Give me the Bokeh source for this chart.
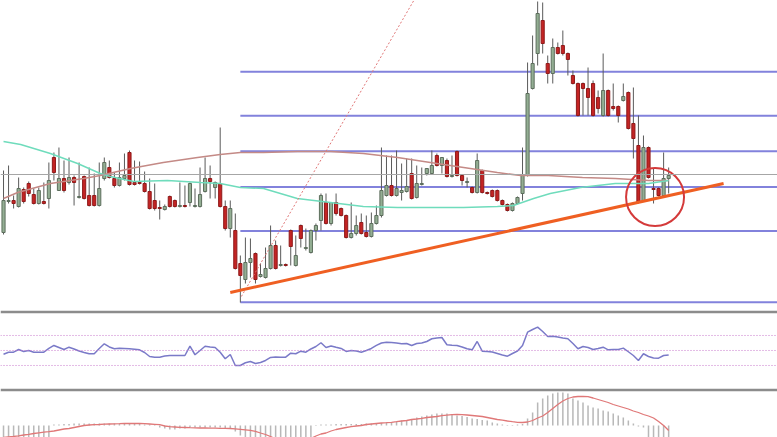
from bokeh.plotting import figure
from bokeh.layouts import column
from bokeh.models import Range1d, ColumnDataSource, Span
from bokeh.embed import file_html
from bokeh.resources import INLINE

# ---------------- data ----------------
open_ = [168,199,200,194,211,217,206,197,199,202,
         243,210,222,218,223,203,224,205,205,195,
         222,233,222,215,222,248,218,218,217,209,
         200,193,191,204,200,194,195,198,194,194,
         209,222,213,217,194,172,170,137,121,138,
         147,124,123,132,155,135,136,170,135,175,
         152,148,170,180,198,177,198,192,185,163,
         167,178,168,164,177,185,205,215,205,208,
         209,227,203,216,227,227,245,235,240,224,
         249,225,218,213,208,230,208,210,210,200,
         196,190,197,207,225,312,347,380,337,327,
         353,355,347,325,317,317,312,317,303,285,
         310,294,294,300,308,277,255,200,253,212,
         212,205,222]
high = [230,235,205,223,213,219,212,213,218,238,
        248,253,240,243,225,238,225,233,227,238,
        243,240,228,238,247,250,240,239,229,222,
        217,200,196,205,201,218,215,218,212,233,
        243,235,219,273,200,200,187,145,163,162,
        148,137,153,175,160,155,137,171,165,176,
        172,171,177,207,207,198,207,193,186,198,
        185,187,185,188,195,253,245,245,250,237,
        242,242,235,233,232,250,247,243,242,245,
        250,226,223,214,247,231,209,211,211,201,
        197,198,204,253,338,365,399,398,345,362,
        358,370,348,330,318,318,333,320,310,347,
        311,317,295,317,309,313,285,265,254,232,
        213,248,233]
low = [166,197,192,193,197,204,196,196,196,192,
       220,210,208,216,195,202,201,194,194,194,
       220,222,213,214,220,215,215,216,208,191,
       190,181,190,193,193,193,193,194,193,193,
       208,202,202,193,170,163,131,98,117,123,
       117,123,122,131,131,134,134,135,134,153,
       150,147,160,170,176,175,185,184,162,162,
       165,166,163,163,176,183,204,204,204,200,
       208,201,202,215,225,226,234,227,223,223,
       224,215,213,207,207,207,206,203,199,195,
       189,189,196,200,224,311,335,347,317,317,
       346,345,325,316,284,285,285,284,287,284,
       284,290,278,299,271,242,197,199,222,197,
       204,204,207]
close = [200,200,197,212,199,207,197,210,197,220,
         228,222,210,223,218,204,202,195,195,212,
         238,223,215,223,225,216,216,217,209,192,
         192,192,194,194,194,195,194,217,195,206,
         222,219,218,194,172,192,132,125,138,142,
         121,126,132,155,132,136,135,154,145,162,
         153,170,175,205,177,198,187,185,163,167,
         175,167,164,177,185,210,215,205,212,210,
         214,202,217,217,232,235,235,243,224,225,
         225,220,219,208,240,208,207,204,200,196,
         190,197,203,225,307,337,387,357,327,353,
         347,347,341,317,285,312,303,285,292,310,
         285,292,285,304,272,262,198,253,223,211,
         205,222,225]

# moving averages (candle index, price)
ma_fast_idx = [0, 3.4, 9.3, 14.7, 19.2, 21.2, 25.8, 32.5, 39.1, 43, 47, 51.6, 58.3, 64.9,
               71.4, 78.2, 91.3, 98, 101.2, 105.2, 108.5, 114.5, 121.4, 128, 132]
ma_fast = [259, 256, 247, 237, 227, 224, 219, 220, 218, 217, 213, 212, 202, 198,
           194, 193, 193, 194, 195, 202, 207, 213, 217, 217, 220]
ma_slow_idx = [0, 2.8, 9.3, 15.9, 19.2, 25.2, 31.7, 38.5, 43, 47, 51.6, 58.3, 64.9, 71.4,
               78.2, 84.7, 91.3, 98, 102.6, 108.1, 114.9, 121.4, 128, 132]
ma_slow = [202, 208, 217, 222, 225, 232, 238, 243, 246, 248, 248, 249, 249, 247,
           243, 238, 233, 228, 225, 225, 223, 222, 220, 220]

current_price = 226

# Fibonacci retracement: anchor at swing low candle, levels between low and high
fib_start_idx = 47
fib_low, fib_high = 98.3, 400.0
fib_ratios = [0.0, 0.236, 0.382, 0.5, 0.618, 0.764]

# trend line anchors and steep dotted line anchors
trend_idx = [45.0, 142.9]
trend_px = [108, 217]
steep_idx = [47.2, 82.0]
steep_px = [104, 405]

# highlighted area (circle)
circle_idx = [129.3]
circle_px = [203.5]

rsi = [45,47.7,47.7,51.3,48.7,50,47.7,47.7,47.7,52.7,
       56.7,54,51.3,54.4,52,49.3,47.3,45.6,45.6,52.7,
       58.9,54.7,52.3,53.1,52.7,52.3,51.7,50.9,47.3,42,
       41.1,41.1,42.7,43.3,43.3,43.3,43.3,55.7,44.3,50,
       55.7,54.7,54,47.7,38.9,44.7,30,30,33.6,35.3,
       32.7,34,36.7,40.7,41.3,41.1,41.1,46.4,45.6,49.1,
       47.7,52,55.3,60.3,54,56,54.3,52.7,48.7,50,
       49.3,47.7,50,52.7,56.7,60,61.1,60.7,60,58.9,
       59.3,56.7,59.3,60,62,65.6,66.7,67.3,57.6,57.1,
       56.7,54.7,52.3,50.9,62,49.1,48.7,48,46,44,
       42.4,46,49.3,56.7,74.4,78,81.1,75.3,68.7,69.1,
       68,66.7,65.6,59.3,52.3,55.3,54,51.3,52.7,54.4,
       50.9,51.3,51.3,53.1,48.3,43.3,36.7,45.6,42,40,
       39.7,43.3,44]
rsi_levels = [70, 50, 30]

macd_hist = [-14,-15,-15,-14,-14,-14,-13,-13,-13,-13,
             1,1,1.5,1.5,2,2,2,2,2,2,
             2,2,2,1.5,1.5,1.5,1.5,1.5,1,1,
             1,-2,-3,-4,-4,-3,-3,-2,-2,-2,
             -2,-2,-2,-2,-3,-3,-6,-10,-14,-15,
             -15,-15,-15,-15,-15,-15,-15,-15,-14,-14,
             -13,-12,0.5,1,1,1,1.5,1.5,1.5,1.5,
             1.5,1.5,2,2,2,2.5,3,3.5,4,5,
             5.5,6.5,8,9,10,11,12,12,12,11,
             10,9.5,8.5,7,6.5,5.5,5,3,2,1,
             0.5,0.5,1,1.5,7,13,23,27,30,32,
             33,33,32,27,25,23,20,18,17,15,
             14,12,10,8,5,2,-1,-2,-14,-15,
             -15,-15,-15]
macd_signal = [-12,-11.5,-11,-10.3,-9.5,-8.8,-8,-7.3,-6.7,-6.2,
               -5.5,-4.5,-3.5,-3,-2,-1,0,0.5,0.8,1,
               1.3,1.5,1.7,1.8,2,2,2,2,1.8,1.5,
               1.2,0.8,-0.5,-1.2,-1.5,-1.8,-2,-2.2,-2.3,-2.5,
               -2.5,-2.6,-2.7,-2.8,-2.9,-3,-3.3,-3.8,-4.3,-4.8,
               -5.8,-7.5,-9,-11,-13.5,-15.5,-17,-17.5,-17.5,-17,
               -15.5,-13,-10.5,-8.5,-7.5,-5.5,-4,-3,-2,-1.2,
               -0.5,0,1,1.5,2,2.5,2.8,3.2,3.8,4.5,
               5,6,6.5,7.2,8,8.5,9,9.8,10.3,10.8,
               11,10.8,10.5,10,9.5,9,8,7,6,5.3,
               4.5,3.8,3.2,3,3.5,5,7.5,9.5,13,17,
               21,24.5,27,28.5,29,29,28.8,27.5,26,24.5,
               23,21,19.5,18,16.5,14.5,13,11,9.5,7.5,
               4,0,-5]

n = len(open_)
assert all(len(a) == n for a in (high, low, close, rsi, macd_hist, macd_signal))
idx = list(range(n))

# ---------------- figures ----------------
xr = Range1d(-0.6, 153.6)
SEP = "#8c8c8c"


def make_fig(h, y0, y1, top_border):
    f = figure(width=777, height=h, x_range=xr, y_range=Range1d(y0, y1),
               output_backend="svg", toolbar_location=None,
               x_axis_location=None, y_axis_location=None,
               min_border_left=0, min_border_right=0, min_border_bottom=0,
               min_border_top=top_border,
               border_fill_color=SEP if top_border else "white",
               background_fill_color="white", outline_line_color=None)
    f.xgrid.visible = False
    f.ygrid.visible = False
    return f


main = make_fig(310, 90, 400, 0)

# fib levels
levels = [fib_low + r * (fib_high - fib_low) for r in fib_ratios]
main.segment(x0=[fib_start_idx] * len(levels), y0=levels, x1=[170] * len(levels), y1=levels,
             line_color="#8282dc", line_width=2)
main.add_layout(Span(location=current_price, dimension="width", line_color="#a6a6a6", line_width=1))

# candles
src = ColumnDataSource(dict(x=idx, h=high, l=low))
main.segment(x0="x", y0="l", x1="x", y1="h", source=src, line_color="#5a5a5a", line_width=1)
up = [i for i in idx if close[i] >= open_[i]]
dn = [i for i in idx if close[i] < open_[i]]
for sel, fc, lc in ((up, "#93ae93", "#5d6e5d"), (dn, "#c42424", "#8e1a1a")):
    main.vbar(x=sel, width=0.62,
              top=[max(open_[i], close[i]) for i in sel],
              bottom=[min(open_[i], close[i]) for i in sel],
              fill_color=fc, line_color=lc, line_width=1)

# moving averages
main.line(ma_slow_idx, ma_slow, line_color="#c48a86", line_width=1.5)
main.line(ma_fast_idx, ma_fast, line_color="#6fdcbc", line_width=1.5)

# drawings
main.line(steep_idx, steep_px, line_color="#e07878", line_width=1, line_dash="2 2")
main.line(trend_idx, trend_px, line_color="#ef5f22", line_width=3)
main.scatter(circle_idx, circle_px, marker="circle", size=58, fill_color=None,
             line_color="#d43a3a", line_width=2)

# RSI
rsi_fig = make_fig(78, -0.7, 99.3, 3)
for lv in rsi_levels:
    rsi_fig.add_layout(Span(location=lv, dimension="width", line_color="#c878cc",
                            line_width=1, line_dash="1 2"))
rsi_fig.line(idx, rsi, line_color="#7a7ac8", line_width=1.5)

# MACD
macd_fig = make_fig(49, -12, 34, 3)
macd_fig.vbar(x=idx, width=0.3, top=[max(v, 0) for v in macd_hist],
              bottom=[min(v, 0) for v in macd_hist], fill_color="#b8b8b8", line_color=None)
macd_fig.line(idx, macd_signal, line_color="#e07878", line_width=1.3)

layout = column(main, rsi_fig, macd_fig, spacing=0)

open("out.html", "w").write(file_html(layout, INLINE))
